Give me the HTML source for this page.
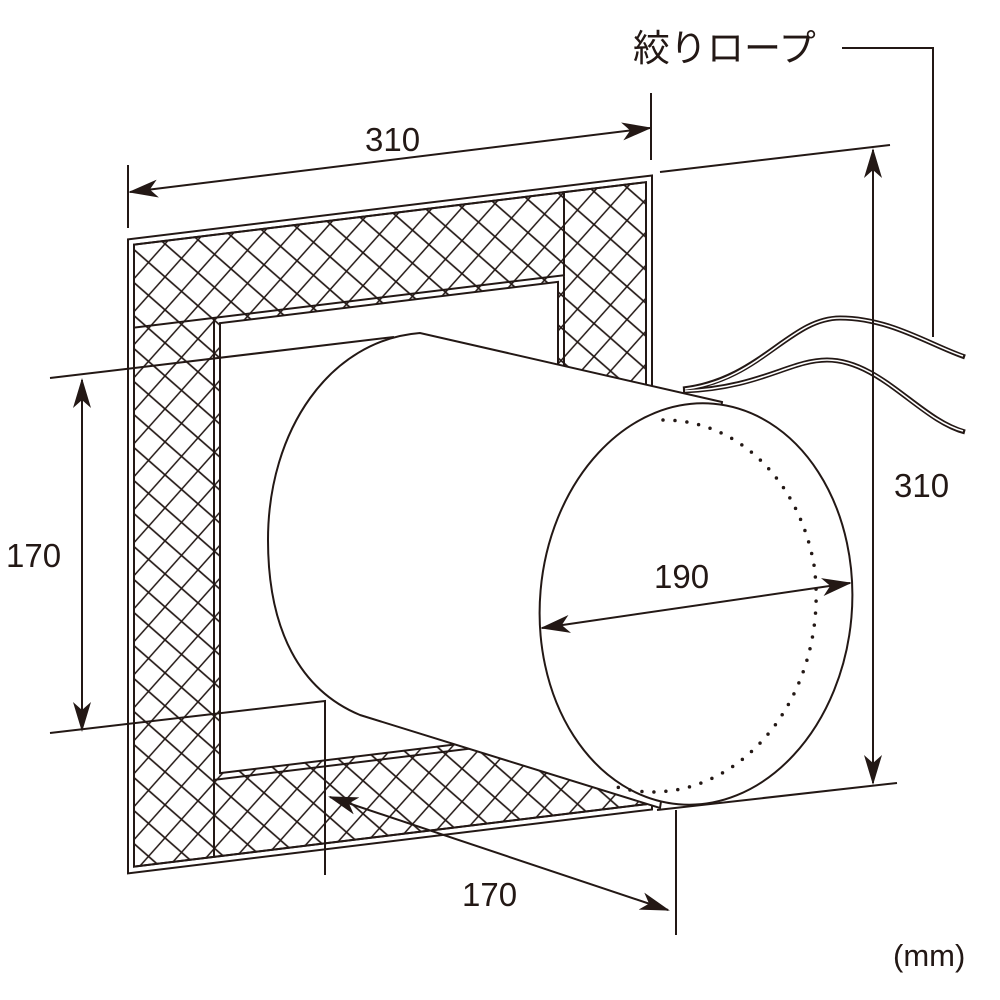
<!DOCTYPE html>
<html><head><meta charset="utf-8"><style>
html,body{margin:0;padding:0;background:#fff}
svg{display:block}
text{font-family:"Liberation Sans","Noto Sans CJK JP",sans-serif;fill:#231815}
</style></head><body>
<svg width="1000" height="1000" viewBox="0 0 1000 1000" xmlns="http://www.w3.org/2000/svg">
<defs>
<pattern id="h" patternUnits="userSpaceOnUse" width="33" height="33">
<path d="M0 0L33 33M33 0L0 33M-5 28L5 38M28 -5L38 5M-5 5L5 -5M28 38L38 28" stroke="#231815" stroke-width="1.6" fill="none"/>
</pattern>
<marker id="a" markerWidth="30" markerHeight="18" refX="28" refY="9" orient="auto-start-reverse" markerUnits="userSpaceOnUse">
<path d="M0 0L30 9L0 18L8 9Z" fill="#231815"/>
</marker>
</defs>
<g stroke="#231815" fill="none" stroke-width="2">
<g transform="matrix(1,-0.122,0,1,0,0)">
<rect x="128" y="255" width="524" height="634" fill="#fff"/>
<rect x="134" y="261" width="512" height="622"/>
<path d="M134 261H646V883H214V344H134Z" fill="url(#h)" stroke="none"/>
<rect x="134" y="344" width="80" height="539" fill="url(#h)" stroke="none"/>
<path d="M134 344H564V261M214 344V883M214 806H646M564 261V806" />
<rect x="220" y="350" width="338" height="450" fill="#fff"/>
<rect x="134" y="261" width="512" height="622"/>
</g>
<path d="M722 402L420 333C330 340 268 430 268 540C268 630 300 690 360 715L660 808Z" fill="#fff"/>
<ellipse cx="696" cy="604" rx="156" ry="201" transform="rotate(5 696 604)" fill="#fff"/>
<path d="M663 420A158 190 5 0 1 814 565A158 190 5 0 1 617 787" stroke-dasharray="0 12" stroke-linecap="round" stroke-width="3.5"/>
<g stroke-width="5"><path d="M683 389C760 380 790 318 840 318C890 318 930 345 965 357"/><path d="M683 391C760 388 790 360 827 360C880 360 920 420 965 432"/></g>
<g stroke="#fff" stroke-width="1.6"><path d="M685 389C760 380 790 318 840 318C890 318 930 345 963 356"/><path d="M685 391C760 388 790 360 827 360C880 360 920 420 963 431"/></g>
<path d="M128 165V228M651 93V160"/>
<path d="M130 192L650 128" marker-start="url(#a)" marker-end="url(#a)"/>
<path d="M660 172L890 145M657 810L897 783"/>
<path d="M873 150V783" marker-start="url(#a)" marker-end="url(#a)"/>
<path d="M50 378L394 337M50 733L325 701V875"/>
<path d="M82 380V730" marker-start="url(#a)" marker-end="url(#a)"/>
<path d="M676 810V935"/>
<path d="M330 797L668 910" marker-start="url(#a)" marker-end="url(#a)"/>
<path d="M542 628L850 583" marker-start="url(#a)" marker-end="url(#a)"/>
<path d="M842 48H933V337"/>
</g>
<g font-size="33">
<text x="365" y="151">310</text>
<text x="894" y="497">310</text>
<text x="6" y="567">170</text>
<text x="462" y="906">170</text>
<text x="654" y="588">190</text>
<text x="893" y="966" font-size="31">(mm)</text>
<text x="633" y="61" font-size="37">絞りロープ</text>
</g>
</svg>
</body></html>
